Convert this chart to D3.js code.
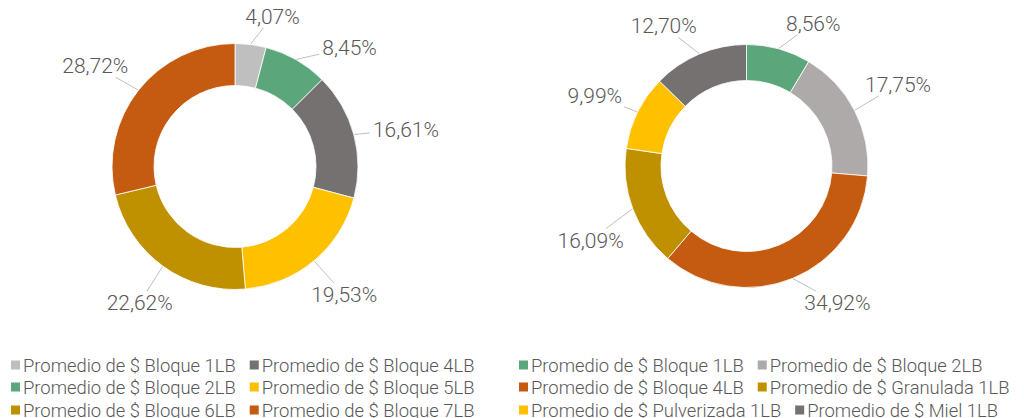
<!DOCTYPE html>
<html><head><meta charset="utf-8">
<script src="https://cdn.jsdelivr.net/npm/d3@7"></script>
<style>body{margin:0;background:#fff;overflow:hidden} svg{display:block}</style>
</head><body><svg id="c" width="1024" height="418"></svg>
<script>
// ---- data ----
const leftCategories = ["Promedio de $ Bloque 1LB", "Promedio de $ Bloque 2LB", "Promedio de $ Bloque 4LB",
  "Promedio de $ Bloque 5LB", "Promedio de $ Bloque 6LB", "Promedio de $ Bloque 7LB"];
const leftValues = [4.07, 8.45, 16.61, 19.53, 22.62, 28.72];
const leftColors = ["#BFBFBF", "#5BA67A", "#767171", "#FFC000", "#BF9000", "#C55A11"];
const leftLegendRows = [[0, 2], [1, 3], [4, 5]];

const rightCategories = ["Promedio de $ Bloque 1LB", "Promedio de $ Bloque 2LB", "Promedio de $ Bloque 4LB",
  "Promedio de $ Granulada 1LB", "Promedio de $ Pulverizada 1LB", "Promedio de $ Miel 1LB"];
const rightValues = [8.56, 17.75, 34.92, 16.09, 9.99, 12.70];
const rightColors = ["#5BA67A", "#AEAAAA", "#C55A11", "#BF9000", "#FFC000", "#767171"];
const rightLegendRows = [[0, 1], [2, 3], [4, 5]];

// ---- layout (label angle nudges in degrees, like manual label offsets) ----
const charts = [
  {cats: leftCategories, vals: leftValues, colors: leftColors, rows: leftLegendRows,
   cx: 235, cy: 166.5, outer: 123, inner: 81, legendX: 11,
   nudge: [6.7, 14, 2.8, -0.5, -0.9, -2.5]},
  {cats: rightCategories, vals: rightValues, colors: rightColors, rows: rightLegendRows,
   cx: 746.5, cy: 166, outer: 121.5, inner: 85.5, legendX: 519,
   nudge: [9.6, -1.1, -11.2, -4.8, -1.3, -7.7]}
];

const svg = d3.select("#c");
const fmt = v => d3.format(".2f")(v).replace(".", ",") + "%";
const textColor = "#595959";
const fontFam = "'Roboto Light', Roboto, 'Open Sans', sans-serif";
const labelSize = 21, legendSize = 18.4;
const baselines = [372, 394, 417];

charts.forEach(ch => {
  const pie = d3.pie().sort(null).value(d => d)(ch.vals);
  const arc = d3.arc().innerRadius(ch.inner).outerRadius(ch.outer);
  const g = svg.append("g").attr("transform", `translate(${ch.cx},${ch.cy})`);

  g.selectAll("path.slice").data(pie).join("path")
    .attr("class", "slice")
    .attr("d", arc)
    .attr("fill", (d, i) => ch.colors[i])
    .attr("stroke", "#fff").attr("stroke-width", 0.8);

  // labels
  const d0 = ch.outer + 18;
  pie.forEach((d, i) => {
    const mid = (d.startAngle + d.endAngle) / 2;
    const th = mid + ch.nudge[i] * Math.PI / 180;
    const t = g.append("text").text(fmt(d.value))
      .attr("font-family", fontFam)
      .attr("font-weight", 300)
      .attr("font-size", labelSize)
      .attr("fill", textColor)
      .attr("text-anchor", "middle");
    const w = t.node().getComputedTextLength();
    const h = labelSize * 0.72;
    const D = d0 + Math.abs(Math.sin(th)) * w / 2 + Math.abs(Math.cos(th)) * h / 2;
    const lx = D * Math.sin(th), ly = -D * Math.cos(th);
    t.attr("x", lx).attr("y", ly + h / 2);

    // leader line
    const sx = (ch.outer + 0.5) * Math.sin(mid), sy = -(ch.outer + 0.5) * Math.cos(mid);
    const vx = sx - lx, vy = sy - ly;
    const pad = 3;
    const tt = Math.min(vx !== 0 ? (w / 2 + pad) / Math.abs(vx) : Infinity,
                        vy !== 0 ? (h / 2 + pad + 1) / Math.abs(vy) : Infinity);
    if (tt < 1) {
      g.append("line")
        .attr("x1", sx).attr("y1", sy)
        .attr("x2", lx + vx * tt).attr("y2", ly + vy * tt)
        .attr("stroke", "#BFBFBF").attr("stroke-width", 1);
    }
  });

  // legend
  ch.rows.forEach((row, r) => {
    let x = ch.legendX;
    row.forEach(idx => {
      const base = baselines[r];
      svg.append("rect")
        .attr("x", x).attr("y", base - 11.5)
        .attr("width", 9).attr("height", 9)
        .attr("fill", ch.colors[idx]);
      const t = svg.append("text")
        .attr("x", x + 12).attr("y", base)
        .attr("font-family", fontFam)
        .attr("font-weight", 300)
        .attr("font-size", legendSize)
        .attr("fill", textColor)
        .text(ch.cats[idx]);
      x += 12 + t.node().getComputedTextLength() + 14;
    });
  });
});
</script>
</body></html>
